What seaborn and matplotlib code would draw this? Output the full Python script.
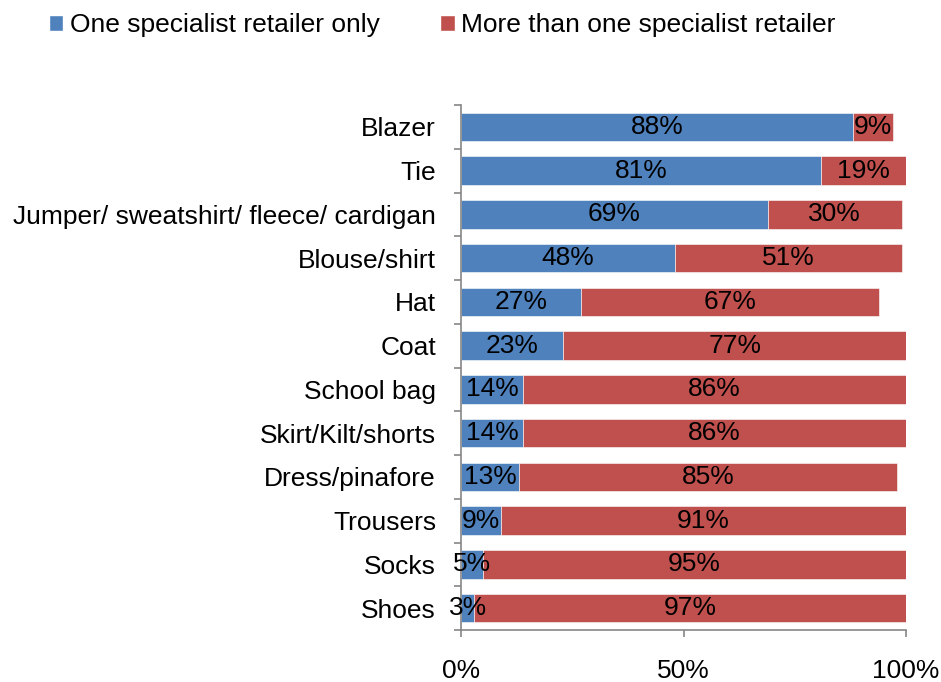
import matplotlib
matplotlib.use("Agg")
import matplotlib.pyplot as plt
import seaborn as sns
import pandas as pd
from matplotlib.patches import Patch

categories = ["Blazer", "Tie", "Jumper/ sweatshirt/ fleece/ cardigan", "Blouse/shirt", "Hat",
              "Coat", "School bag", "Skirt/Kilt/shorts", "Dress/pinafore", "Trousers", "Socks", "Shoes"]
one_only = [88, 81, 69, 48, 27, 23, 14, 14, 13, 9, 5, 3]
more_than_one = [9, 19, 30, 51, 67, 77, 86, 86, 85, 91, 95, 97]
series_names = ["One specialist retailer only", "More than one specialist retailer"]
x_ticks = [0, 50, 100]
x_tick_labels = ["0%", "50%", "100%"]

BLUE = "#4F81BD"
RED = "#C0504D"
FS = 19
GREY = "#868686"

sns.set_theme(style="white")
plt.rcParams["font.family"] = ["Liberation Sans", "DejaVu Sans"]
plt.rcParams["text.color"] = "black"

df = pd.DataFrame({"cat": categories, "one": one_only, "more": more_than_one})

fig = plt.figure(figsize=(9.41, 6.82), dpi=100)
ax = fig.add_axes([461 / 941, 1 - 630 / 682, (906 - 461) / 941, (630 - 105) / 682])

sns.barplot(data=df, y="cat", x="one", order=categories, color=BLUE, width=0.65,
            saturation=1, ax=ax, edgecolor="white", linewidth=0.4)
sns.barplot(data=df, y="cat", x="more", order=categories, color=RED, width=0.65,
            saturation=1, ax=ax, left=df["one"].values, edgecolor="white", linewidth=0.4)

for cont in ax.containers:
    ax.bar_label(cont, fmt="{:.0f}%", label_type="center", fontsize=FS, color="black")

ax.set_xlim(0, 100)
ax.set_ylim(len(categories) - 0.5, -0.5)
ax.set_xticks(x_ticks)
ax.set_xticklabels(x_tick_labels, fontsize=FS, color="black")
ax.set_yticks(range(len(categories)))
ax.set_yticklabels(categories, fontsize=FS, color="black")
ax.set_xlabel("")
ax.set_ylabel("")

for s in ["top", "right"]:
    ax.spines[s].set_visible(False)
for s in ["left", "bottom"]:
    ax.spines[s].set_color(GREY)
    ax.spines[s].set_linewidth(1.2)

ax.set_yticks([i - 0.5 for i in range(len(categories) + 1)], minor=True)
ax.tick_params(axis="y", which="major", left=True, length=0, pad=18)
ax.tick_params(axis="y", which="minor", left=True, length=5, color=GREY, width=1.2, direction="out")
ax.tick_params(axis="x", which="major", bottom=True, length=5, color=GREY, width=1.2,
               direction="out", pad=16)
ax.grid(False)

handles = [Patch(facecolor=BLUE, label=series_names[0]), Patch(facecolor=RED, label=series_names[1])]
leg = fig.legend(handles=handles, loc="upper left", bbox_to_anchor=(0.046, 0.988), ncol=2, frameon=False,
                 fontsize=FS, handlelength=0.55, handleheight=0.55, handletextpad=0.25, columnspacing=2.3,
                 borderaxespad=0, borderpad=0.2)
for t in leg.get_texts():
    t.set_color("black")

fig.savefig("out.png", dpi=100)
